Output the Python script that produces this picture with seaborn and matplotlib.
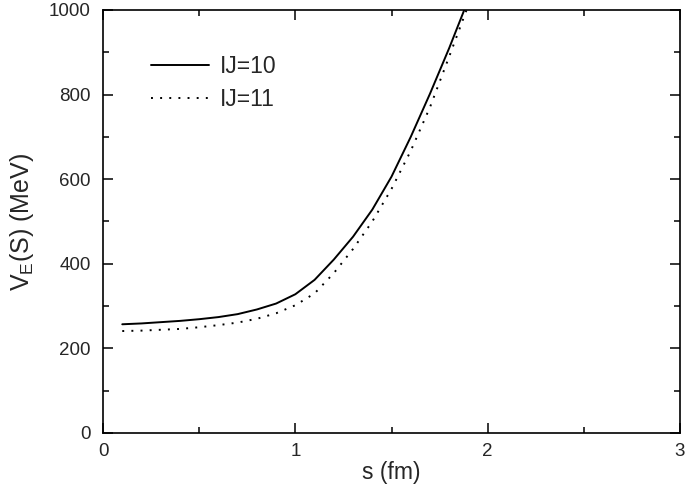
import matplotlib
matplotlib.use("Agg")
import matplotlib.pyplot as plt
import seaborn as sns
import pandas as pd
from matplotlib.ticker import MultipleLocator

s_values = [0.1, 0.2, 0.3, 0.4, 0.5, 0.6, 0.7, 0.8, 0.9, 1.0,
            1.1, 1.2, 1.3, 1.4, 1.5, 1.6, 1.7, 1.8, 1.9]
v_ij10 = [257, 259, 262, 265, 269, 274, 281, 292, 306, 328,
          362, 410, 464, 528, 606, 700, 802, 910, 1025]
v_ij11 = [241, 242, 244, 246, 250, 255, 261, 270, 283, 302,
          330, 378, 435, 500, 577, 667, 770, 890, 1012]
series_names = ["IJ=10", "IJ=11"]

x_label = "s (fm)"
y_label = r"V$_{\mathrm{E}}$(S) (MeV)"

sns.set_theme(style="ticks")
plt.rcParams["font.family"] = ["Liberation Sans", "DejaVu Sans"]
plt.rcParams["mathtext.fontset"] = "custom"
plt.rcParams["mathtext.rm"] = "Liberation Sans"

df = pd.concat([
    pd.DataFrame({"s": s_values, "V": v_ij10, "series": series_names[0]}),
    pd.DataFrame({"s": s_values, "V": v_ij11, "series": series_names[1]}),
])

fig = plt.figure(figsize=(6.85, 4.94), dpi=100)
ax = fig.add_axes([0.1504, 0.1235, 0.8423, 0.8563])

sns.lineplot(data=df[df.series == series_names[0]], x="s", y="V", ax=ax,
             color="black", linewidth=1.4, label=series_names[0])
sns.lineplot(data=df[df.series == series_names[1]], x="s", y="V", ax=ax,
             color="black", linewidth=1.4, linestyle=(0, (1, 3.7)),
             label=series_names[1])

ax.set_xlim(0, 3)
ax.set_ylim(0, 1000)
ax.xaxis.set_major_locator(MultipleLocator(1))
ax.xaxis.set_minor_locator(MultipleLocator(0.5))
ax.yaxis.set_major_locator(MultipleLocator(200))
ax.yaxis.set_minor_locator(MultipleLocator(100))

for sp in ax.spines.values():
    sp.set_visible(True)
    sp.set_linewidth(1.2)
    sp.set_color("black")

ax.tick_params(which="both", direction="in", top=True, right=True,
               color="black", width=1.1)
ax.tick_params(which="major", length=7)
ax.tick_params(which="minor", length=4)
ax.tick_params(axis="x", which="major", labelsize=13.5, pad=7)
ax.tick_params(axis="y", which="major", labelsize=13.5, pad=9)

ax.set_xlabel(x_label, fontsize=16.5, labelpad=1)
ax.set_ylabel(y_label, fontsize=18, labelpad=9)

leg = ax.legend(loc="upper left", bbox_to_anchor=(0.068, 0.915), frameon=False,
                fontsize=16.5, handlelength=2.5, handletextpad=0.5,
                labelspacing=0.45, borderaxespad=0)

fig.savefig("out.png", dpi=100)
